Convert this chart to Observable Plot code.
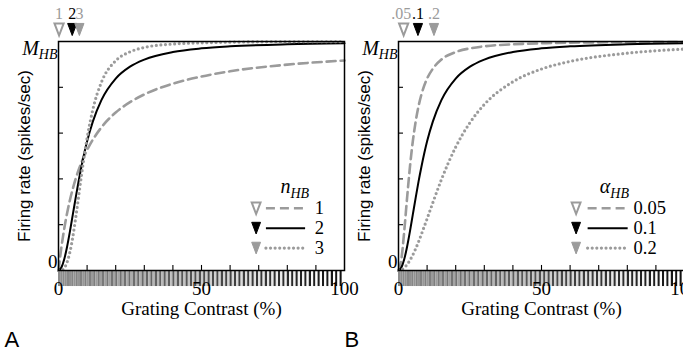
<!DOCTYPE html>
<html>
<head>
<meta charset="utf-8">
<script src="https://cdn.jsdelivr.net/npm/d3@7"></script>
<script src="https://cdn.jsdelivr.net/npm/@observablehq/plot@0.6"></script>
<style>
  html, body { margin: 0; padding: 0; background: #fff; }
  body { width: 683px; height: 353px; overflow: hidden; position: relative; }
  .panel { position: absolute; top: 0; width: 345px; height: 353px; }
  .panel svg { overflow: visible; max-width: none; }
</style>
</head>
<body>
<div id="panelA" class="panel" style="left:0px"></div>
<div id="panelB" class="panel" style="left:340px"></div>
<script>
// Grating contrast samples (%)
const contrast = [0, 1, 2, 3, 4, 5, 6, 7, 8, 10, 12, 15, 20, 25, 30, 40, 50, 60, 80, 100];

// Normalised firing rate (fraction of M_HB) at each contrast
const rateN1 = [0, .100, .182, .250, .308, .357, .400, .438, .471, .526, .571, .625, .690, .735, .769, .816, .847, .870, .899, .917];
const rateN2 = [0, .013, .049, .104, .171, .244, .317, .388, .452, .564, .650, .744, .838, .890, .921, .954, .970, .979, .988, .992];
const rateN3 = [0, .001, .011, .036, .081, .146, .229, .320, .413, .578, .703, .822, .916, .955, .974, .989, .994, .997, .999, .999];
const rateA05 = [0, .049, .171, .317, .452, .564, .650, .717, .768, .838, .881, .921, .954, .970, .979, .988, .992, .995, .997, .998];
const rateA10 = rateN2;
const rateA20 = [0, .003, .012, .026, .045, .068, .095, .125, .158, .226, .296, .397, .539, .646, .725, .824, .880, .913, .949, .967];

// Parameter labels and the contrast at which each marker triangle sits
const labelsN = ["1", "2", "3"];
const markerN = [0.2, 4.8, 7.3];
const labelsA = ["0.05", "0.1", "0.2"];
const shortA = [".05", ".1", ".2"];
const markerA = [1.8, 6.8, 12.4];

// Axis ticks
const xTickLabels = [0, 50, 100];
const xMinorTicks = [10, 20, 30, 40, 50, 60, 70, 80, 90];
const yMinorTicks = [0.2, 0.4, 0.6, 0.8];

const gray = "#9b9b9b";
const serif = "'Liberation Serif', 'Times New Roman', serif";
const sans = "'Liberation Sans', Arial, sans-serif";

const lineStyles = [
  {stroke: gray, strokeWidth: 2.6, strokeDasharray: "9,5", markerFill: "white", markerStroke: gray},
  {stroke: "black", strokeWidth: 2, strokeDasharray: null, markerFill: "black", markerStroke: "black"},
  {stroke: gray, strokeWidth: 3.2, strokeDasharray: "0,4.6", strokeLinecap: "round", markerFill: gray, markerStroke: gray}
];

// Narrow downward-pointing triangle
const downTriangle = {
  draw(ctx, size) {
    const r = Math.sqrt(size / Math.PI);
    const w = r * 0.82, h = r * 1.08;
    ctx.moveTo(-w, -h);
    ctx.lineTo(w, -h);
    ctx.lineTo(0, h);
    ctx.closePath();
  }
};

// Square-wave grating whose contrast grows from left to right
const gratingCycles = 65;
const stripes = d3.range(gratingCycles * 2).map(i => {
  const x1 = i * 100 / (gratingCycles * 2);
  const x2 = (i + 1) * 100 / (gratingCycles * 2);
  const m = (x1 + x2) / 200;
  const L = Math.max(0, Math.min(1, 0.55 + (i % 2 ? 1 : -1) * 0.48 * m));
  const v = Math.round(255 * L);
  return {x1, x2, fill: `rgb(${v},${v},${v})`};
});

const sansTexts = new Set(["Firing rate (spikes/sec)", "A", "B"]);

function panel({rates, labels, shortLabels, markers, legendSymbol, letter, legend}) {
  const series = rates.map((r, k) => contrast.map((c, i) => ({c, r: r[i], k})));
  const marks = [];

  marks.push(Plot.rect(stripes, {x1: "x1", x2: "x2", y1: -0.07, y2: 0, fill: "fill"}));

  series.forEach((s, k) => {
    const st = lineStyles[k];
    marks.push(Plot.line(s, {x: "c", y: "r", curve: "monotone-x", stroke: st.stroke,
      strokeWidth: st.strokeWidth, strokeDasharray: st.strokeDasharray, strokeLinecap: st.strokeLinecap}));
  });

  marks.push(Plot.frame({stroke: "black", strokeWidth: 1.5}));
  marks.push(Plot.ruleX(xMinorTicks, {x: d => d, y1: 0, y2: 0.022, stroke: "black", strokeWidth: 1.1}));
  marks.push(Plot.ruleY(yMinorTicks, {y: d => d, x1: 0, x2: 1.75, stroke: "black", strokeWidth: 1.1}));

  // marker triangles above the frame with their labels
  const top = markers.map((c, k) => ({c, k, label: shortLabels[k]}));
  top.forEach(d => {
    const st = lineStyles[d.k];
    marks.push(Plot.dot([d], {x: "c", y: 1, dy: -12, r: 5.6, symbol: downTriangle,
      fill: st.markerFill, stroke: st.markerStroke, strokeWidth: d.k === 0 ? 2 : 1}));
    marks.push(Plot.text([d], {x: "c", y: 1, dy: -28, dx: d.k === 0 && d.label.length > 1 ? -2.5 : 0,
      text: "label", fontSize: 16, fill: d.k === 1 ? "black" : gray}));
  });

  // legend
  const rows = labels.map((label, k) => ({label, k, v: legend.rows[k]}));
  rows.forEach(d => {
    const st = lineStyles[d.k];
    marks.push(Plot.ruleY([d], {y: "v", x1: legend.lineX1, x2: legend.lineX2, stroke: st.stroke,
      strokeWidth: st.strokeWidth, strokeDasharray: st.strokeDasharray, strokeLinecap: st.strokeLinecap}));
    marks.push(Plot.dot([d], {x: legend.symbolX, y: "v", r: 5.4, symbol: downTriangle,
      fill: st.markerFill, stroke: st.markerStroke, strokeWidth: d.k === 0 ? 2 : 1}));
  });
  marks.push(Plot.text(rows, {x: legend.textX, y: "v", text: "label", textAnchor: "start",
    fontSize: 18.5, fill: "black"}));
  marks.push(Plot.text([legendSymbol + "_HB"], {x: legend.titleX, y: legend.titleY, textAnchor: "start",
    fontSize: 20, fontStyle: "italic", fill: "black"}));

  // axis labels
  marks.push(Plot.text(xTickLabels, {x: d => d, frameAnchor: "bottom", dy: 24, text: d => String(d),
    fontSize: 19, fill: "black"}));
  marks.push(Plot.text(["0"], {frameAnchor: "bottom-left", textAnchor: "end", dx: -1, dy: -3,
    fontSize: 19, fill: "black"}));
  marks.push(Plot.text(["M_HB"], {frameAnchor: "top-left", textAnchor: "end", dx: -1, dy: -1,
    fontSize: 20, fontStyle: "italic", fill: "black"}));
  marks.push(Plot.text(["Grating Contrast (%)"], {frameAnchor: "bottom", textAnchor: "middle", dy: 44,
    fontSize: 19, fill: "black"}));
  marks.push(Plot.text(["Firing rate (spikes/sec)"], {frameAnchor: "left", textAnchor: "middle", rotate: -90, dx: -34,
    fontSize: 17, fill: "black"}));
  marks.push(Plot.text([letter], {frameAnchor: "bottom-left", textAnchor: "start", dx: -54, dy: 76,
    fontSize: 22, fill: "black"}));

  const svg = Plot.plot({
    width: 345,
    height: 353,
    marginLeft: 58,
    marginRight: 1,
    marginTop: 41,
    marginBottom: 83,
    x: {domain: [0, 100], axis: null},
    y: {domain: [0, 1], axis: null},
    color: {type: "identity"},
    style: {background: "transparent", overflow: "visible"},
    marks
  });

  const texts = d3.select(svg).selectAll("text");
  // typefaces: serif for numbers and labels, sans for the rate label and panel letter
  texts.each(function () {
    const t = this.textContent;
    this.style.fontFamily = sansTexts.has(t) ? sans : serif;
  });
  // italic symbol with a smaller subscript
  texts.each(function () {
    const t = this.textContent;
    if (t.includes("_HB")) {
      const [main, sub] = t.split("_");
      const el = d3.select(this);
      el.text("");
      el.append("tspan").text(main);
      el.append("tspan").attr("font-size", 14).attr("dy", "0.3em").text(sub);
    }
  });
  return svg;
}

document.getElementById("panelA").append(panel({
  rates: [rateN1, rateN2, rateN3],
  labels: labelsN,
  shortLabels: labelsN,
  markers: markerN,
  legendSymbol: "n",
  letter: "A",
  legend: {symbolX: 69.1, lineX1: 72.7, lineX2: 86.4, textX: 89.6, titleX: 77.6, titleY: 0.365, rows: [0.272, 0.185, 0.098]}
}));

document.getElementById("panelB").append(panel({
  rates: [rateA05, rateA10, rateA20],
  labels: labelsA,
  shortLabels: shortA,
  markers: markerA,
  legendSymbol: "α",
  letter: "B",
  legend: {symbolX: 62.1, lineX1: 66.3, lineX2: 80.3, textX: 82.2, titleX: 70.4, titleY: 0.365, rows: [0.272, 0.185, 0.098]}
}));
</script>
</body>
</html>
